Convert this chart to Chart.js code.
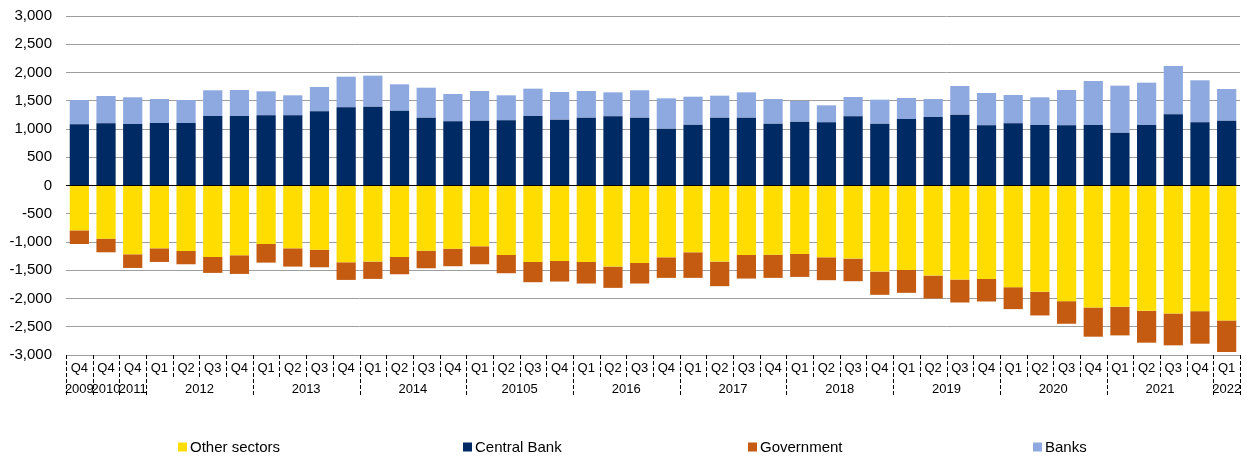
<!DOCTYPE html>
<html>
<head>
<meta charset="utf-8">
<script src="https://cdn.jsdelivr.net/npm/chart.js@4"></script>
<style>
  html, body { margin: 0; padding: 0; background: #fff; }
  #wrap { width: 1247px; height: 459px; }
</style>
</head>
<body>
<div id="wrap"><canvas id="extChart" width="1247" height="459"></canvas></div>
<script>
// quarter / year labels (two-level category axis)
const quarters = ['Q4', 'Q4', 'Q4',
  'Q1', 'Q2', 'Q3', 'Q4', 'Q1', 'Q2', 'Q3', 'Q4', 'Q1', 'Q2', 'Q3', 'Q4',
  'Q1', 'Q2', 'Q3', 'Q4', 'Q1', 'Q2', 'Q3', 'Q4', 'Q1', 'Q2', 'Q3', 'Q4',
  'Q1', 'Q2', 'Q3', 'Q4', 'Q1', 'Q2', 'Q3', 'Q4', 'Q1', 'Q2', 'Q3', 'Q4',
  'Q1', 'Q2', 'Q3', 'Q4', 'Q1'];
const years = ['2009', '2010', '2011',
  '2012', '2012', '2012', '2012', '2013', '2013', '2013', '2013',
  '2014', '2014', '2014', '2014', '20105', '20105', '20105', '20105',
  '2016', '2016', '2016', '2016', '2017', '2017', '2017', '2017',
  '2018', '2018', '2018', '2018', '2019', '2019', '2019', '2019',
  '2020', '2020', '2020', '2020', '2021', '2021', '2021', '2021', '2022'];

// series values
const otherSectors = [-794, -941, -1218, -1112, -1159, -1265, -1235, -1035, -1112, -1135, -1359,
  -1347, -1265, -1153, -1118, -1076, -1229, -1353, -1335, -1353, -1435, -1371, -1271,
  -1182, -1347, -1229, -1224, -1212, -1271, -1294, -1524, -1494, -1594, -1665, -1653,
  -1800, -1882, -2047, -2159, -2147, -2218, -2265, -2224, -2388];
const centralBank = [1083, 1100, 1088, 1106, 1106, 1230, 1230, 1242, 1242, 1313, 1384,
  1395, 1324, 1200, 1136, 1147, 1153, 1230, 1165, 1200, 1224, 1200, 1006,
  1077, 1200, 1200, 1094, 1130, 1118, 1224, 1094, 1177, 1212, 1254, 1065,
  1100, 1071, 1065, 1071, 935, 1071, 1260, 1118, 1147];
const government = [-241, -241, -241, -241, -235, -282, -330, -330, -323, -312, -312,
  -306, -306, -312, -311, -318, -324, -359, -365, -382, -377, -364, -364,
  -453, -435, -418, -411, -406, -405, -400, -411, -406, -406, -406, -400,
  -388, -418, -400, -517, -506, -564, -564, -576, -559];
const banks = [430, 484, 473, 425, 407, 455, 460, 425, 354, 430, 542,
  549, 467, 531, 483, 526, 443, 484, 490, 473, 425, 485, 537,
  495, 390, 449, 437, 366, 301, 342, 425, 372, 319, 507, 572,
  502, 490, 625, 779, 832, 749, 855, 744, 561];

const yTicks = [-3000, -2500, -2000, -1500, -1000, -500, 0, 500, 1000, 1500, 2000, 2500, 3000];

Chart.defaults.font.family = "'Liberation Sans', Arial, sans-serif";
Chart.defaults.color = '#000';

// year row, dashed separators and the legend, drawn under the axis
const groupAxis = {
  id: 'groupAxis',
  afterDraw(chart) {
    const { ctx, chartArea } = chart;
    const x = chart.scales.x;
    const n = quarters.length;
    const step = (chartArea.right - chartArea.left) / n;
    const y0 = chartArea.bottom;

    ctx.save();
    ctx.strokeStyle = '#000';
    ctx.lineWidth = 1;
    ctx.setLineDash([4, 2]);
    for (let i = 0; i <= n; i++) {
      const xp = Math.round(chartArea.left + i * step) + 0.5;
      const edge = i === 0 || i === n || years[i] !== years[i - 1];
      ctx.beginPath();
      ctx.moveTo(xp, y0);
      ctx.lineTo(xp, y0 + (edge ? 42 : 22));
      ctx.stroke();
    }
    ctx.setLineDash([]);

    ctx.font = "13px 'Liberation Sans', Arial, sans-serif";
    ctx.fillStyle = '#000';
    ctx.textAlign = 'center';
    ctx.textBaseline = 'middle';
    let start = 0;
    for (let i = 1; i <= n; i++) {
      if (i === n || years[i] !== years[start]) {
        const cx = (x.getPixelForValue(start) + x.getPixelForValue(i - 1)) / 2;
        ctx.fillText(years[start], cx, y0 + 34);
        start = i;
      }
    }

    // legend
    const ly = 447;
    ctx.font = "15px 'Liberation Sans', Arial, sans-serif";
    ctx.textAlign = 'left';
    chart.data.datasets.forEach((ds, i) => {
      const lx = 178 + i * 285;
      ctx.fillStyle = ds.backgroundColor;
      ctx.fillRect(lx, ly - 4.5, 9, 9);
      ctx.fillStyle = '#000';
      ctx.fillText(ds.label, lx + 12, ly + 1);
    });
    ctx.restore();
  }
};

new Chart(document.getElementById('extChart'), {
  type: 'bar',
  data: {
    labels: quarters,
    datasets: [
      { label: 'Other sectors', data: otherSectors, backgroundColor: '#FFDD00' },
      { label: 'Central Bank', data: centralBank, backgroundColor: '#002A64' },
      { label: 'Government', data: government, backgroundColor: '#C55A11' },
      { label: 'Banks', data: banks, backgroundColor: '#8DA9E0' }
    ]
  },
  options: {
    responsive: false,
    animation: false,
    layout: { padding: { top: 16, right: 7, bottom: 54, left: 0 } },
    datasets: { bar: { categoryPercentage: 1, barPercentage: 0.72, borderWidth: 0 } },
    plugins: {
      legend: { display: false },
      tooltip: { enabled: false }
    },
    scales: {
      x: {
        stacked: true,
        grid: { display: false, drawTicks: false },
        border: { display: false },
        ticks: { font: { size: 13 }, padding: 6, maxRotation: 0, autoSkip: false },
        afterFit: s => { s.height = 50; s.paddingLeft = 0; s.paddingRight = 0; }
      },
      y: {
        stacked: true,
        min: -3000,
        max: 3000,
        afterBuildTicks: s => { s.ticks = yTicks.map(v => ({ value: v })); },
        grid: {
          drawTicks: false,
          color: ctx => ctx.tick && ctx.tick.value === 0 ? '#000' : '#9e9e9e',
          lineWidth: 1
        },
        border: { display: false },
        ticks: {
          font: { size: 15 },
          padding: 14,
          callback: v => v.toLocaleString('en-US')
        },
        afterFit: s => { s.width = 66; s.paddingTop = 0; s.paddingBottom = 0; }
      }
    }
  },
  plugins: [groupAxis]
});
</script>
</body>
</html>
